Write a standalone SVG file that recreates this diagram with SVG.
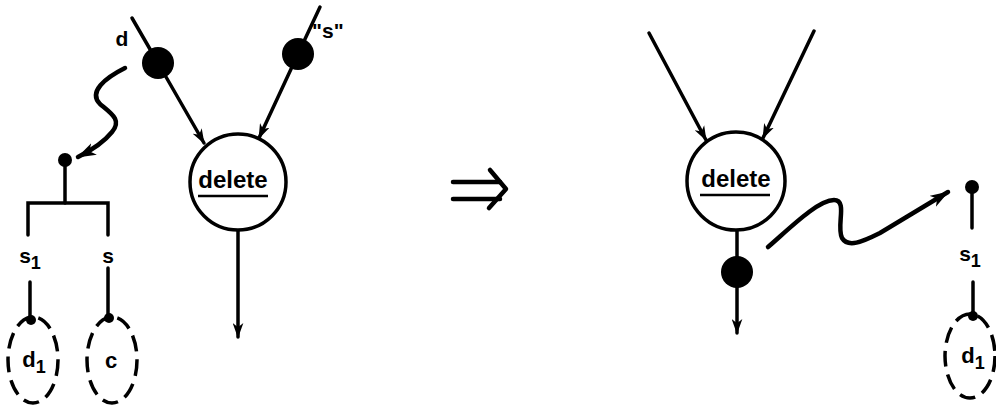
<svg xmlns="http://www.w3.org/2000/svg" width="996" height="407" viewBox="0 0 996 407">
<style>
.ln{stroke:#000;stroke-width:3.5;fill:none;stroke-linecap:round}
.wv{stroke:#000;stroke-width:4.5;fill:none;stroke-linecap:round}
.circ{stroke:#000;stroke-width:3.5;fill:#fff}
.dash{stroke:#000;stroke-width:3.5;fill:none;stroke-dasharray:16 8}
.t{font-family:"Liberation Sans",Arial,sans-serif;font-weight:bold;fill:#000}
</style>
<defs>
<marker id="ah" viewBox="0 0 14 10" refX="13" refY="5" markerWidth="15" markerHeight="11" markerUnits="userSpaceOnUse" orient="auto">
<path d="M0,0 L14,5 L0,10 L4,5 z" fill="#000"/>
</marker>
<marker id="ahw" viewBox="0 0 18 12" refX="17" refY="6" markerWidth="19" markerHeight="13" markerUnits="userSpaceOnUse" orient="auto">
<path d="M0,0 L18,6 L0,12 L5,6 z" fill="#000"/>
</marker>
</defs>

<g id="connectors">
<line class="ln" x1="132" y1="18" x2="158" y2="63"/>
<line class="ln" x1="158" y1="63" x2="204" y2="143" marker-end="url(#ah)"/>
<line class="ln" x1="320" y1="7" x2="298" y2="54"/>
<line class="ln" x1="298" y1="54" x2="259" y2="138" marker-end="url(#ah)"/>
<line class="ln" x1="238" y1="230" x2="238" y2="337" marker-end="url(#ah)"/>
<path class="wv" d="M125,68 C105,78 88,92 100,104 C112,114 122,120 112,132 C104,142 92,150 78,157" marker-end="url(#ahw)"/>
<line class="ln" x1="65" y1="160" x2="65" y2="203"/>
<polyline class="ln" points="28,235 28,203 108,203 108,235"/>
<line class="ln" x1="30" y1="282" x2="30" y2="320"/>
<line class="ln" x1="108" y1="268" x2="108" y2="318"/>
<line class="ln" x1="649" y1="33" x2="706" y2="140" marker-end="url(#ah)"/>
<line class="ln" x1="814" y1="31" x2="763" y2="138" marker-end="url(#ah)"/>
<line class="ln" x1="737" y1="230" x2="737" y2="333" marker-end="url(#ah)"/>
<path class="wv" d="M768,247 C790,228 818,200 834,200 C848,200 836,226 842,238 C848,248 862,242 880,233 L948,192" marker-end="url(#ahw)"/>
<line class="ln" x1="972" y1="187" x2="972" y2="228"/>
<line class="ln" x1="973" y1="282" x2="973" y2="318"/>
</g>

<g id="delete-left">
<circle class="circ" cx="238" cy="182" r="48"/>
<text class="t" x="233" y="188" font-size="24" text-anchor="middle">delete</text>
<line x1="198" y1="196" x2="268" y2="196" stroke="#000" stroke-width="2.5"/>
</g>
<g id="dot-d"><circle cx="158" cy="63" r="16"/><text class="t" x="122" y="46" font-size="21" text-anchor="middle">d</text></g>
<g id="dot-s"><circle cx="298" cy="54" r="16"/><text class="t" x="312" y="38" font-size="21">"s"</text></g>
<g id="small-dot-left"><circle cx="65" cy="160" r="7"/></g>
<g id="label-s1-left"><text class="t" x="30" y="263" font-size="21" text-anchor="middle">s<tspan dy="6" font-size="18">1</tspan></text></g>
<g id="label-s-left"><text class="t" x="108" y="263" font-size="21" text-anchor="middle">s</text></g>
<g id="ellipse-d1-left">
<ellipse class="dash" cx="33" cy="360" rx="25" ry="43"/>
<circle cx="31" cy="320" r="5"/>
<text class="t" x="34" y="367" font-size="22" text-anchor="middle">d<tspan dy="6" font-size="18">1</tspan></text>
</g>
<g id="ellipse-c">
<ellipse class="dash" cx="112" cy="360" rx="25" ry="43"/>
<circle cx="109" cy="318" r="5"/>
<text class="t" x="111" y="368" font-size="22" text-anchor="middle">c</text>
</g>

<g id="implies">
<line class="wv" x1="453" y1="182" x2="500" y2="182"/>
<line class="wv" x1="453" y1="199" x2="500" y2="199"/>
<polyline class="wv" points="490,170 506,189 489,208" stroke-linejoin="round"/>
</g>

<g id="delete-right">
<circle class="circ" cx="736" cy="181" r="49"/>
<text class="t" x="736" y="187" font-size="24" text-anchor="middle">delete</text>
<line x1="700" y1="195" x2="770" y2="195" stroke="#000" stroke-width="2.5"/>
</g>
<g id="dot-out"><circle cx="737" cy="272" r="16"/></g>
<g id="small-dot-right"><circle cx="972" cy="187" r="7"/></g>
<g id="label-s1-right"><text class="t" x="970" y="261" font-size="21" text-anchor="middle">s<tspan dy="6" font-size="18">1</tspan></text></g>
<g id="ellipse-d1-right">
<ellipse class="dash" cx="970" cy="356" rx="25" ry="42"/>
<circle cx="973" cy="316" r="5"/>
<text class="t" x="973" y="363" font-size="22" text-anchor="middle">d<tspan dy="6" font-size="18">1</tspan></text>
</g>
</svg>
